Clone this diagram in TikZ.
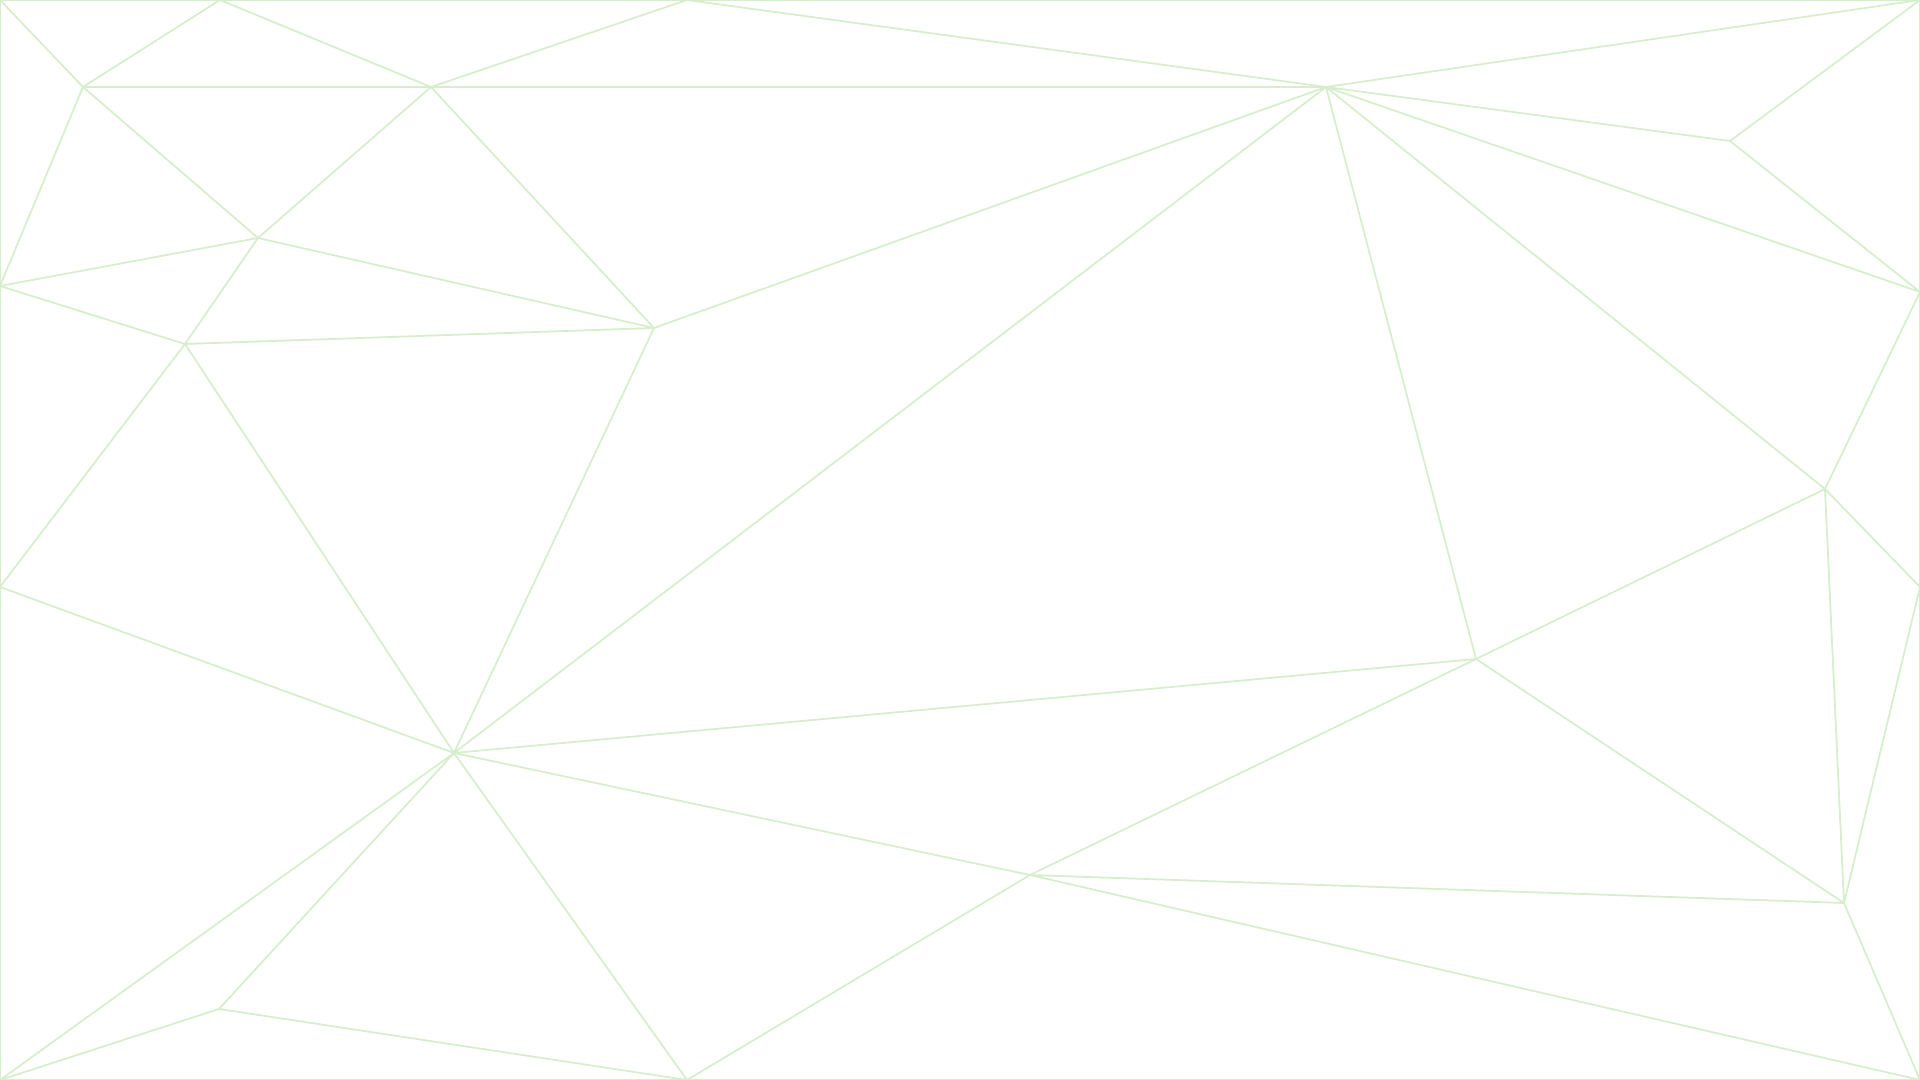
\documentclass[tikz,border=0pt]{standalone}
\usepackage{tikz}
\usetikzlibrary{calc}

\definecolor{meshgreen}{RGB}{214,238,204}

\begin{document}
\begin{tikzpicture}[x=0.01cm,y=-0.01cm,mesh/.style={draw=meshgreen,line width=.5pt,line join=round}]
\useasboundingbox (0,0) rectangle (1920,1080);
\coordinate (V1)  at (0,0);
\coordinate (V2)  at (220,0);
\coordinate (V3)  at (687,0);
\coordinate (V4)  at (1920,0);
\coordinate (V5)  at (83,87);
\coordinate (V6)  at (431,87);
\coordinate (V7)  at (1326,87);
\coordinate (V8)  at (1730,141);
\coordinate (V9)  at (258,238);
\coordinate (V10) at (0,286);
\coordinate (V11) at (1920,292);
\coordinate (V12) at (654,328);
\coordinate (V13) at (185,344);
\coordinate (V14) at (1825,489);
\coordinate (V15) at (0,587);
\coordinate (V16) at (1920,587);
\coordinate (V17) at (1476,659);
\coordinate (V18) at (454,753);
\coordinate (V19) at (1030,875);
\coordinate (V20) at (1844,903);
\coordinate (V21) at (219,1009);
\coordinate (V22) at (0,1080);
\coordinate (V23) at (687,1080);
\coordinate (V24) at (1920,1080);
\draw [mesh] (V1) rectangle (V24);
\draw [mesh] (V1) -- (V5) -- (V2) -- (V6) -- (V3) -- (V7) -- (V4);
\draw [mesh] (V5) -- (V7);
\draw [mesh] (V10) -- (V5) -- (V9) -- (V6) -- (V12) -- (V7);
\draw [mesh] (V10) -- (V9) -- (V12) -- (V13) -- (V9);
\draw [mesh] (V10) -- (V13) -- (V15) -- (V18) -- (V13);
\draw [mesh] (V12) -- (V18) -- (V7) -- (V17) -- (V18);
\draw [mesh] (V4) -- (V8) -- (V7) -- (V11) -- (V8);
\draw [mesh] (V7) -- (V14) -- (V11);
\draw [mesh] (V17) -- (V14) -- (V16) -- (V20) -- (V14);
\draw [mesh] (V18) -- (V19) -- (V17) -- (V20) -- (V19) -- (V24) -- (V20);
\draw [mesh] (V22) -- (V18) -- (V21) -- (V22);
\draw [mesh] (V21) -- (V23) -- (V18);
\draw [mesh] (V23) -- (V19);
\end{tikzpicture}
\end{document}
